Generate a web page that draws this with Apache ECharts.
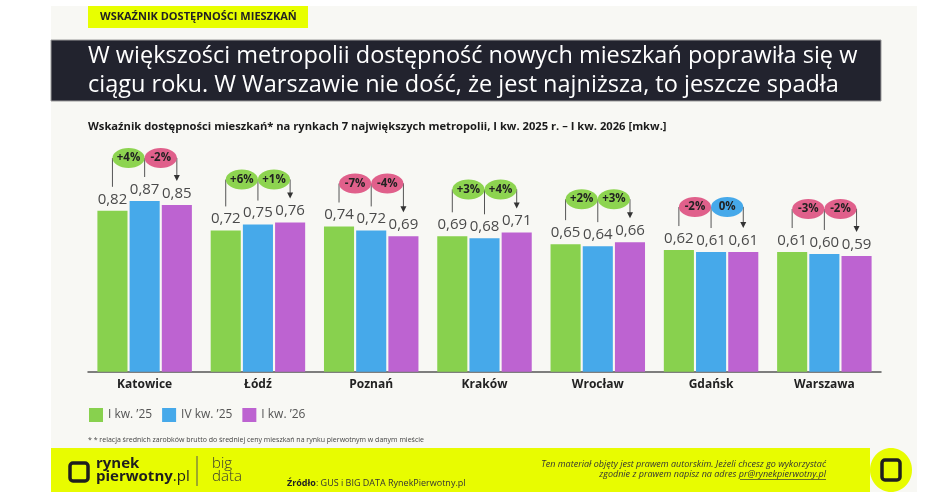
<!DOCTYPE html>
<html><head><meta charset="utf-8">
<script src="https://cdn.jsdelivr.net/npm/echarts@6/dist/echarts.min.js"></script>
<style>html,body{margin:0;padding:0;background:#fff}#c{width:948px;height:498px}</style>
</head><body><div id="c"></div>
<script>
const categories = ['Katowice','Łódź','Poznań','Kraków','Wrocław','Gdańsk','Warszawa'];
const seriesNames = ['I kw. ’25','IV kw. ’25','I kw. ’26'];
const q1_25 = [0.82,0.72,0.74,0.69,0.65,0.62,0.61];
const q4_25 = [0.87,0.75,0.72,0.68,0.64,0.61,0.60];
const q1_26 = [0.85,0.76,0.69,0.71,0.66,0.61,0.59];
const change1 = ['+4%','+6%','-7%','+3%','+2%','-2%','-3%'];
const change2 = ['-2%','+1%','-4%','+4%','+3%','0%','-2%'];

const FONT = '"Open Sans", sans-serif';
const colors = ['#88d14e','#46a9ea','#bd63d1'];
const CAT_GAP = 0.166, BAR_GAP = 0.07;

function bubbleColor(s){ return s[0]==='+' ? '#8dd450' : (s[0]==='-' ? '#e0608b' : '#46a9ea'); }

const chart = echarts.init(document.getElementById('c'));
const barLabel = {show:true, position:'top', distance:4, fontSize:15, color:'#4a4a4a', fontFamily:FONT,
  formatter: p => p.value.toFixed(2).replace('.', ',')};

const annData = categories.map((c,i)=>[i, q1_25[i], q4_25[i], q1_26[i]]);

chart.setOption({
  backgroundColor:'#ffffff',
  animation:false,
  textStyle:{fontFamily:FONT},
  grid:{left:88, right:67, top:175.5, bottom:126.3, containLabel:false},
  xAxis:{type:'category', data:categories,
    axisLine:{lineStyle:{color:'#555', width:1.5}}, axisTick:{show:false},
    axisLabel:{fontSize:12, fontWeight:'bold', color:'#222', margin:7, fontFamily:FONT}},
  yAxis:{type:'value', min:0, max:1, show:false, splitLine:{show:false}},
  legend:{left:84, top:403, itemWidth:14, itemHeight:14, itemGap:10, icon:'rect',
    data:seriesNames, textStyle:{fontSize:12, color:'#555', fontFamily:FONT}},
  series:[
    {name:seriesNames[0], type:'bar', data:q1_25, itemStyle:{color:colors[0]}, barCategoryGap:(CAT_GAP*100)+'%', barGap:(BAR_GAP*100)+'%', label:barLabel},
    {name:seriesNames[1], type:'bar', data:q4_25, itemStyle:{color:colors[1]}, label:barLabel},
    {name:seriesNames[2], type:'bar', data:q1_26, itemStyle:{color:colors[2]}, label:barLabel},
    {type:'custom', clip:false, z:5, data:annData, encode:{x:0, y:1},
      renderItem:function(params, api){
        const idx = api.value(0);
        const center = api.coord([idx, 0]);
        const band = api.size([1,0])[0];
        const gw = band*(1-CAT_GAP);
        const bw = gw/(3+2*BAR_GAP);
        const xs = [0,1,2].map(k => center[0]-gw/2 + bw/2 + k*bw*(1+BAR_GAP));
        const ys = [1,2,3].map(k => api.coord([idx, api.value(k)])[1]);
        const by = Math.min(ys[0],ys[1],ys[2]) - 43;
        const ls = {stroke:'#555', lineWidth:1};
        const rx = (xs[1]-xs[0])/2;
        const ch = [
          {type:'line', shape:{x1:xs[0], y1:by, x2:xs[0], y2:ys[0]-24}, style:ls},
          {type:'line', shape:{x1:xs[1], y1:by, x2:xs[1], y2:ys[1]-24}, style:ls},
          {type:'polyline', shape:{points:[[xs[1]+rx,by],[xs[2],by],[xs[2],ys[2]-29]]}, style:Object.assign({fill:null},ls)},
          {type:'polygon', shape:{points:[[xs[2]-3,ys[2]-30],[xs[2]+3,ys[2]-30],[xs[2],ys[2]-24]]}, style:{fill:'#333'}},
        ];
        [change1[idx], change2[idx]].forEach((t,k)=>{
          ch.push({type:'ellipse', shape:{cx:(xs[k]+xs[k+1])/2, cy:by, rx:rx, ry:10}, style:{fill:bubbleColor(t)}});
          ch.push({type:'text', x:(xs[k]+xs[k+1])/2, y:by, style:{text:t, fontSize:11.5, fontWeight:'bold', fill:'#222', align:'center', verticalAlign:'middle', fontFamily:FONT}});
        });
        return {type:'group', children:ch};
      }
    }
  ],
  graphic:[
    {type:'rect', z:-10, shape:{x:51, y:6, width:866, height:486}, style:{fill:'#f8f8f4'}},
    {type:'rect', z:-5, shape:{x:88, y:6, width:220, height:22}, style:{fill:'#e8ff00'}},
    {type:'text', x:100, y:17, style:{text:'WSKAŹNIK DOSTĘPNOŚCI MIESZKAŃ', fontSize:11, fontWeight:'bold', fill:'#222', verticalAlign:'middle', fontFamily:FONT}},
    {type:'rect', z:-5, shape:{x:51, y:40, width:830, height:61}, style:{fill:'#22232e', stroke:'#9a9a9a', lineWidth:1}},
    {type:'text', x:88, y:56, style:{text:'W większości metropolii dostępność nowych mieszkań poprawiła się w', fontSize:23.5, fill:'#ffffff', verticalAlign:'middle', fontFamily:FONT}},
    {type:'text', x:88, y:85, style:{text:'ciągu roku. W Warszawie nie dość, że jest najniższa, to jeszcze spadła', fontSize:23.5, fill:'#ffffff', verticalAlign:'middle', fontFamily:FONT}},
    {type:'text', x:88, y:127, style:{text:'Wskaźnik dostępności mieszkań* na rynkach 7 największych metropolii, I kw. 2025 r. – I kw. 2026 [mkw.]', fontSize:11.2, fontWeight:'bold', fill:'#1a1a1a', verticalAlign:'middle', fontFamily:FONT}},
    {type:'text', x:88, y:440, style:{text:'* * relacja średnich zarobków brutto do średniej ceny mieszkań na rynku pierwotnym w danym mieście', fontSize:7, fill:'#444', verticalAlign:'middle', fontFamily:FONT}},
    {type:'rect', z:-5, shape:{x:51, y:448, width:819, height:44}, style:{fill:'#e8fc00'}},
    {type:'rect', shape:{x:70, y:463, width:18, height:18, r:3}, style:{fill:null, stroke:'#1e1e1e', lineWidth:3.5}},
    {type:'text', x:96, y:464, style:{text:'rynek', fontSize:15, fontWeight:'bold', fill:'#1e1e1e', verticalAlign:'middle', fontFamily:FONT}},
    {type:'text', x:96, y:477, style:{text:'{b|pierwotny}{n|.pl}', verticalAlign:'middle', fontFamily:FONT,
      rich:{b:{fontSize:15, fontWeight:'bold', fill:'#1e1e1e', fontFamily:FONT}, n:{fontSize:15, fill:'#1e1e1e', fontFamily:FONT}}}},
    {type:'line', shape:{x1:197, y1:456, x2:197, y2:486}, style:{stroke:'#555', lineWidth:1}},
    {type:'text', x:212, y:464, style:{text:'big', fontSize:15, fontWeight:300, fill:'#333', verticalAlign:'middle', fontFamily:FONT}},
    {type:'text', x:212, y:477, style:{text:'data', fontSize:15, fontWeight:300, fill:'#333', verticalAlign:'middle', fontFamily:FONT}},
    {type:'text', x:287, y:483, style:{text:'{b|Źródło}: GUS i BIG DATA RynekPierwotny.pl', fontSize:9, fill:'#333', verticalAlign:'middle', fontFamily:FONT,
      rich:{b:{fontSize:9, fontWeight:'bold', fill:'#222', fontFamily:FONT}}}},
    {type:'text', x:826, y:464, style:{text:'Ten materiał objęty jest prawem autorskim. Jeżeli chcesz go wykorzystać', fontSize:9, fontStyle:'italic', fill:'#333', align:'right', verticalAlign:'middle', fontFamily:FONT}},
    {type:'text', x:826, y:474, style:{text:'zgodnie z prawem napisz na adres pr@rynekpierwotny.pl', fontSize:9, fontStyle:'italic', fill:'#333', align:'right', verticalAlign:'middle', fontFamily:FONT}},
    {type:'line', shape:{x1:740, y1:479.5, x2:826, y2:479.5}, style:{stroke:'#333', lineWidth:0.7}},
    {type:'ellipse', shape:{cx:891, cy:470, rx:21, ry:22}, style:{fill:'#e8fc00'}},
    {type:'rect', shape:{x:882, y:460, width:18, height:20, r:3}, style:{fill:null, stroke:'#1e1e1e', lineWidth:3.5}}
  ]
});
</script></body></html>
